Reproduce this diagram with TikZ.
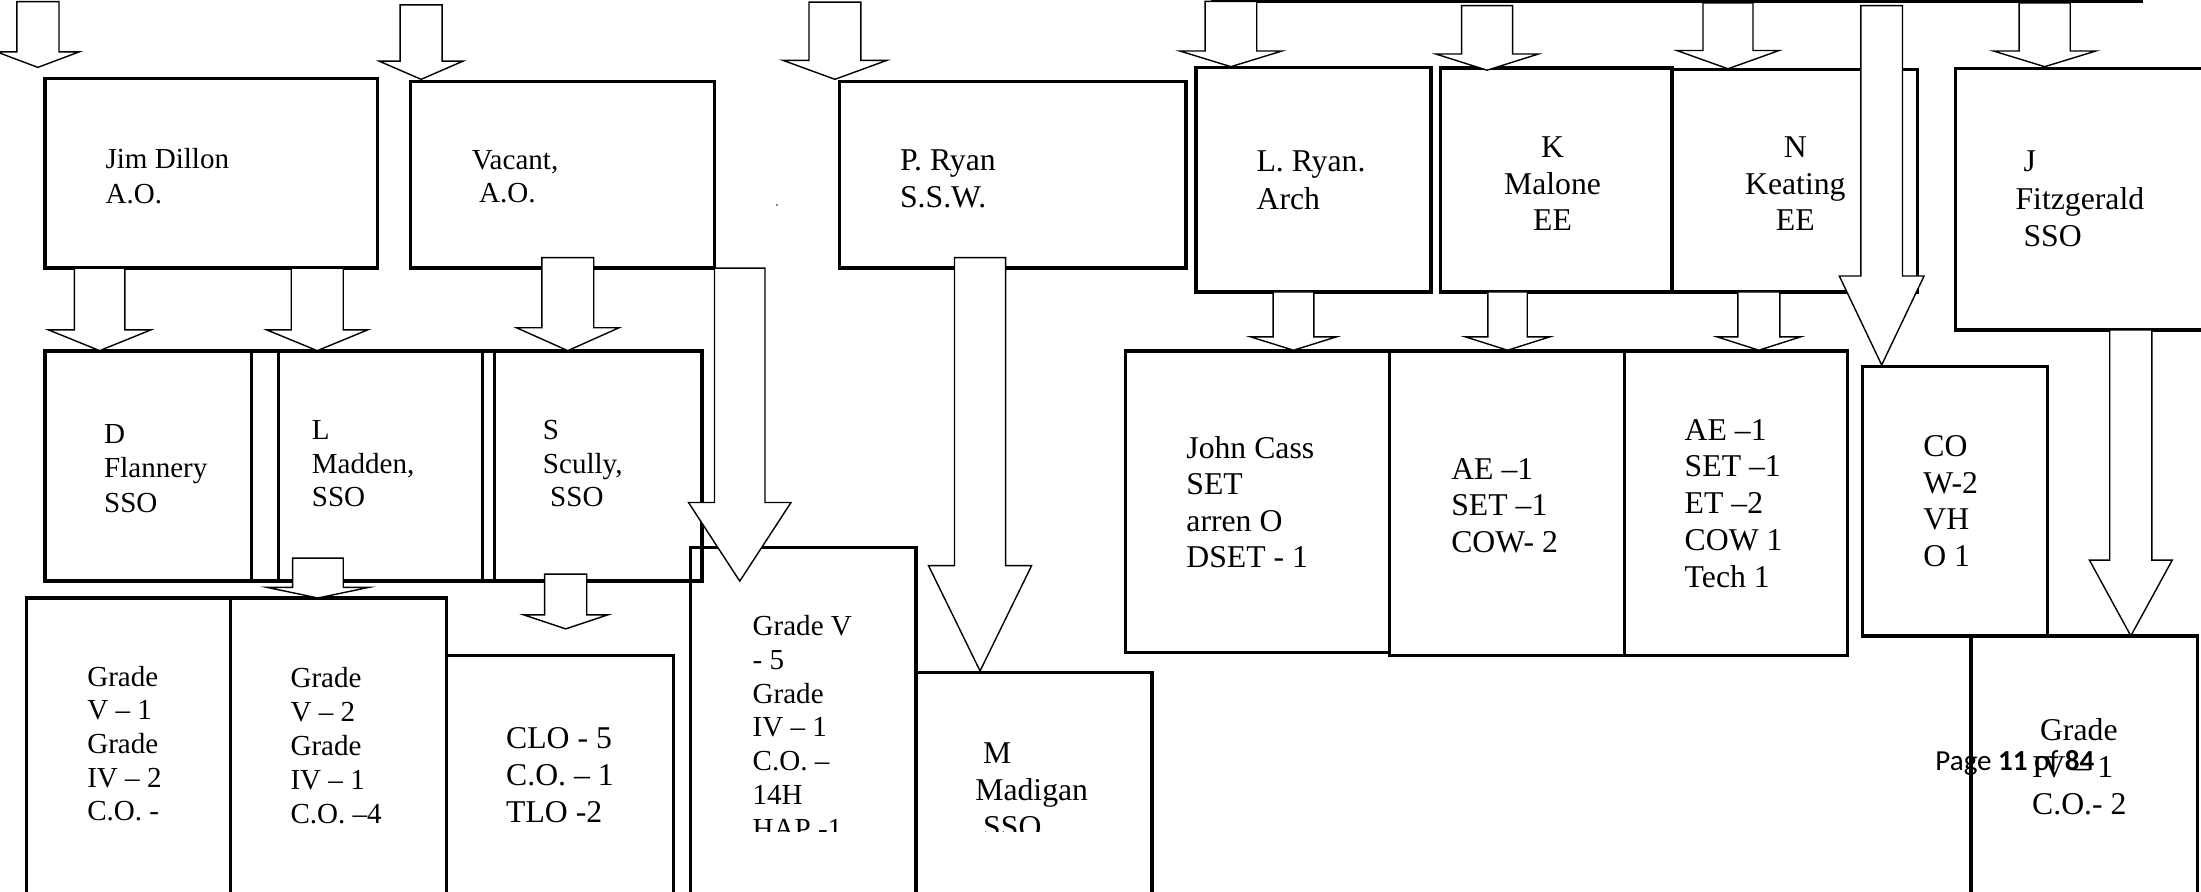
\documentclass[tikz,border=0pt]{standalone}
\usepackage{fontspec}
\setmainfont{Liberation Serif}
\newfontfamily\pagefont{Carlito}
\definecolor{inkdot}{RGB}{110,140,195}

% one text line, left aligned / centred on the node's x
\newcommand\tline[1]{\hbox{#1}}
\newcommand\tlinec[1]{\hbox to 0pt{\hss#1\hss}}
% a block of lines whose first baseline is the node's baseline
\newcommand\lines[2]{\vtop{\baselineskip=#1pt\lineskiplimit=-100pt\lineskip=0pt #2}}
% a box given by its corners
\newcommand\cell[5]{\node[box, minimum width={#4-#2}, minimum height={#5-#3}, anchor=north west] (#1) at (#2,#3) {};}
% a hollow block arrow pointing down: centre x, top, shaft half width, head base, head half width, tip
\newcommand\blockarrow[6]{\draw[arr] (#1-#3,#2) -- (#1-#3,#4) -- (#1-#5,#4) -- (#1,#6) -- (#1+#5,#4) -- (#1+#3,#4) -- (#1+#3,#2) -- cycle;}

\tikzset{
  box/.style={draw, line width=2.4pt, inner sep=0pt, outer sep=0pt},
  arr/.style={draw, fill=white, line width=1pt, line join=miter},
  sm/.style={inner sep=0pt, anchor=base west, font=\fontsize{20.7}{23.8}\selectfont},
  bg/.style={inner sep=0pt, anchor=base west, font=\fontsize{22.6}{26}\selectfont},
  bgc/.style={bg, anchor=base},
}

\begin{document}
\begin{tikzpicture}[x=1pt, y=-1pt]
\useasboundingbox (0,0) rectangle (1568,635);
\clip (0,0) rectangle (1568,635);

% ---- top row boxes
\cell{dillon}{32}{56}{269}{191}
\cell{vacant}{292.5}{58}{509}{191}
\cell{pryan}{598}{58}{845}{191}
\cell{lryan}{852}{48}{1019.5}{208}
\cell{malone}{1026}{48.5}{1191}{208}
\cell{keating}{1191}{49.5}{1366}{208}
\cell{fitz}{1393}{48.7}{1590}{235}

% ---- second row boxes
\cell{flannery}{32}{250}{179.3}{414}
\cell{stripa}{179.3}{250}{198.3}{414}
\cell{madden}{198.3}{250}{343.6}{414}
\cell{stripb}{343.6}{250}{352.2}{414}
\cell{scully}{352.2}{250}{500}{414}
\cell{cass}{802}{250}{990}{465}
\cell{ae}{990}{250}{1157.5}{467}
\cell{aetech}{1157.5}{250}{1316}{467}
\cell{co}{1327}{261}{1458.7}{453}

% ---- third row boxes
\cell{gv1}{19}{426}{164}{660}
\cell{gv2}{164}{426}{318}{660}
\cell{clo}{318}{467}{480}{660}
\cell{gv5}{492}{390}{652.5}{660}
\cell{madigan}{652.5}{479}{820.6}{660}
\cell{gradeiv}{1404}{453}{1565.7}{660}

% ---- line along the top
\draw[line width=2.2pt] (863,1.1) -- (1527,1.1);

% ---- arrows from above
\blockarrow{27}{1.2}{15}{37}{29.3}{48}
\blockarrow{300}{3.5}{15}{43.5}{30}{56.5}
\blockarrow{594.8}{1.5}{18.5}{43}{37}{56.5}
\blockarrow{876.9}{1}{18.4}{36.3}{36.5}{47.5}
\blockarrow{1059.4}{4}{18.2}{38.5}{36.5}{50}
\blockarrow{1231}{2}{17.8}{36}{36.4}{49}
\blockarrow{1456.6}{2}{18.2}{36.3}{36.6}{47.5}
\blockarrow{1340.5}{4}{14.85}{196.6}{30.2}{260}

% ---- arrows from the top row
\blockarrow{71}{191}{18}{235}{36.5}{249.8}
\blockarrow{226}{191}{18.5}{235}{36}{249.8}
\blockarrow{404.5}{183.5}{18.5}{233.5}{36.5}{249.8}
\blockarrow{527}{191}{18}{358}{36.5}{414}
\blockarrow{698.2}{183.5}{18.2}{403}{36.7}{478}
\blockarrow{921.5}{208}{14.5}{240}{30.5}{249.5}
\blockarrow{1074}{208}{14}{240}{30}{249.5}
\blockarrow{1253}{208}{15}{240}{29.7}{249.5}
\blockarrow{1518}{235}{15}{399}{29.5}{453}

% ---- arrows from the second row
\blockarrow{226.5}{397.6}{18}{418.4}{36.5}{426}
\blockarrow{403}{409}{15}{438}{30}{448}

% ---- stray mark
\fill[inkdot] (552.7,145.4) rectangle (554,146.7);

% ---- labels, top row
\node[sm] (t-dillon) at (75,120) {\lines{25}{\tline{Jim Dillon}\tline{A.O.}}};
\node[sm] (t-vacant) at (336,120.5) {\lines{24}{\tline{Vacant,}\tline{\ A.O.}}};
\node[bg] (t-pryan) at (641,121.5) {\lines{26}{\tline{P. Ryan}\tline{S.S.W.}}};
\node[bg] (t-lryan) at (895,122) {\lines{27}{\tline{L. Ryan.}\tline{Arch}}};
\node[bgc] (t-malone) at (1106,112.5) {\lines{26}{\tlinec{K}\tlinec{Malone}\tlinec{EE}}};
\node[bgc] (t-keating) at (1279,112.5) {\lines{26}{\tlinec{N}\tlinec{Keating}\tlinec{EE}}};
\node[bg] (t-fitz) at (1435.7,122.5) {\lines{26.5}{\tline{\ J}\tline{Fitzgerald}\tline{\ SSO}}};

% ---- labels, second row
\node[sm] (t-flannery) at (74,316) {\lines{24.5}{\tline{D}\tline{Flannery}\tline{SSO}}};
\node[sm] (t-madden) at (222,313) {\lines{24}{\tline{L}\tline{Madden,}\tline{SSO}}};
\node[sm] (t-scully) at (386.6,313) {\lines{24}{\tline{S}\tline{Scully,}\tline{\ SSO}}};
\node[bg] (t-cass) at (845,326.5) {\lines{26}{\tline{John Cass}\tline{SET}\tline{arren O}\tline{DSET - 1}}};
\node[bg] (t-ae) at (1033.7,341.5) {\lines{26}{\tline{AE –1}\tline{SET –1}\tline{COW- 2}}};
\node[bg] (t-aetech) at (1200,313.5) {\lines{26.2}{\tline{AE –1}\tline{SET –1}\tline{ET –2}\tline{COW 1}\tline{Tech 1}}};
\node[bg] (t-co) at (1370,325.5) {\lines{26}{\tline{CO}\tline{W-2}\tline{VH}\tline{O 1}}};

% ---- labels, third row
\node[sm] (t-gv1) at (62,489) {\lines{23.9}{\tline{Grade}\tline{V – 1}\tline{Grade}\tline{IV – 2}\tline{C.O. -}}};
\node[sm] (t-gv2) at (206.8,490) {\lines{24.2}{\tline{Grade}\tline{V – 2}\tline{Grade}\tline{IV – 1}\tline{C.O. –4}}};
\node[bg] (t-clo) at (360.4,533) {\lines{26.5}{\tline{CLO - 5}\tline{C.O. – 1}\tline{TLO -2}}};
\begin{scope}
  \clip (485,380) rectangle (830,592);
  \node[sm] (t-gv5) at (536,453) {\lines{24}{\tline{Grade V}\tline{- 5}\tline{Grade}\tline{IV – 1}\tline{C.O. –}\tline{14H}\tline{HAP -1}}};
  \node[bg] (t-madigan) at (694.6,544) {\lines{26.3}{\tline{\ M}\tline{Madigan}\tline{\ SSO}}};
\end{scope}
\node[bg] (t-gradeiv) at (1447.5,527.6) {\lines{26.2}{\tline{\ Grade}\tline{IV – 1}\tline{C.O.- 2}}};

% ---- page number
\node[inner sep=0pt, anchor=base west, font=\pagefont\fontsize{20.7}{24}\selectfont] (pagenum) at (1378.6,549) {Page \textbf{11} of \textbf{84}};
\end{tikzpicture}
\end{document}
